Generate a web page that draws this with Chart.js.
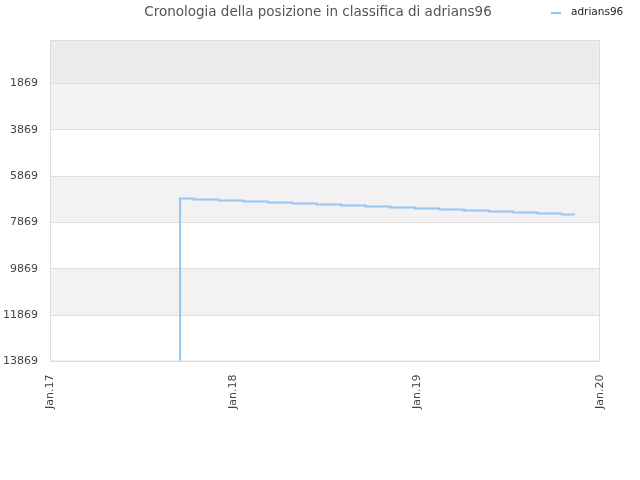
<!DOCTYPE html>
<html>
<head>
<meta charset="utf-8">
<script src="https://cdn.jsdelivr.net/npm/chart.js@4/dist/chart.umd.min.js"></script>
<style>
  html, body { margin: 0; padding: 0; background: #fff; }
  #wrap { width: 640px; height: 480px; }
</style>
</head>
<body>
<div id="wrap"><canvas id="rankChart"></canvas></div>
<script>
// Ranking history (lower rank number = better)
const rankDates = [
    '2017-09-15', '2017-09-17', '2017-10-15', '2017-12-02', '2018-01-21',
    '2018-03-10', '2018-04-29', '2018-06-16', '2018-08-04', '2018-09-21',
    '2018-11-10', '2018-12-28', '2019-02-16', '2019-04-05', '2019-05-25',
    '2019-07-12', '2019-08-30', '2019-10-17', '2019-11-12'
];
const rankValues = [
    13869, 6835, 6880, 6920, 6965,
    7010, 7050, 7095, 7140, 7180,
    7225, 7270, 7310, 7355, 7400,
    7440, 7485, 7530, 7530
];
const yTickValues = [1869, 3869, 5869, 7869, 9869, 11869, 13869];
const xTickYears = [2017, 2018, 2019, 2020];

const playerName = 'adrians96';
const titleText = 'Cronologia della posizione in classifica di ' + playerName;

// alternating background bands, top to bottom
const bandColors = ['#ececec', '#f2f2f2', '#ffffff', '#f2f2f2', '#ffffff', '#f2f2f2', '#ffffff'];

const points = rankDates.map((d, i) => ({ x: Date.parse(d + 'T00:00:00Z'), y: rankValues[i] }));

const decorPlugin = {
    id: 'decor',
    beforeDraw(chart) {
        const { ctx, chartArea, scales } = chart;
        const y = scales.y;
        const edges = [0].concat(yTickValues);
        ctx.save();
        for (let i = 0; i < edges.length - 1; i++) {
            const top = y.getPixelForValue(edges[i]);
            const bottom = y.getPixelForValue(edges[i + 1]);
            ctx.fillStyle = bandColors[i % bandColors.length];
            ctx.fillRect(chartArea.left, top, chartArea.right - chartArea.left, bottom - top);
        }
        ctx.restore();
    },
    afterDraw(chart) {
        const { ctx, chartArea } = chart;
        const ds = chart.data.datasets[0];
        ctx.save();
        // frame round the plot
        ctx.strokeStyle = '#dddddd';
        ctx.lineWidth = 1;
        ctx.strokeRect(chartArea.left + 0.5, chartArea.top + 0.5,
            chartArea.right - chartArea.left - 1, chartArea.bottom - chartArea.top - 1);
        // title, centred on the canvas
        ctx.fillStyle = '#555';
        ctx.font = '13.5px "DejaVu Sans", sans-serif';
        ctx.textAlign = 'center';
        ctx.textBaseline = 'middle';
        ctx.fillText(titleText, 318, 12);
        // legend in the top right corner, same row as the title
        ctx.fillStyle = ds.borderColor;
        ctx.fillRect(551, 12, 10, 2);
        ctx.fillStyle = '#222';
        ctx.font = '10.5px "DejaVu Sans", sans-serif';
        ctx.textAlign = 'left';
        ctx.fillText(ds.label, 571, 12);
        ctx.restore();
    }
};

const ctx = document.getElementById('rankChart').getContext('2d');

new Chart(ctx, {
    type: 'line',
    data: {
        datasets: [{
            label: playerName,
            data: points,
            stepped: true,
            borderColor: '#94c5f3',
            backgroundColor: '#94c5f3',
            borderWidth: 2,
            pointRadius: 0,
            fill: false
        }]
    },
    options: {
        responsive: true,
        maintainAspectRatio: false,
        animation: false,
        layout: {
            padding: { top: 40, right: 40, bottom: 58, left: 0 }
        },
        plugins: {
            title: { display: false },
            tooltip: { enabled: false },
            legend: { display: false }
        },
        scales: {
            x: {
                type: 'linear',
                min: Date.UTC(2017, 0, 1),
                max: Date.UTC(2020, 0, 1),
                grid: { display: false, drawTicks: false },
                border: { display: false },
                afterBuildTicks: (scale) => {
                    scale.ticks = xTickYears.map(yr => ({ value: Date.UTC(yr, 0, 1) }));
                },
                ticks: {
                    minRotation: 90,
                    maxRotation: 90,
                    padding: 13,
                    color: '#444',
                    font: { size: 11, family: '"DejaVu Sans", sans-serif' },
                    callback: (value) => 'Jan.' + String(new Date(value).getUTCFullYear()).slice(2)
                }
            },
            y: {
                reverse: true,
                min: 0,
                max: 13869,
                grid: { color: '#dedede', drawTicks: false },
                border: { display: false },
                afterBuildTicks: (scale) => {
                    scale.ticks = yTickValues.map(v => ({ value: v }));
                },
                afterFit: (scale) => { scale.width = 50; },
                ticks: {
                    padding: 12,
                    color: '#444',
                    font: { size: 11, family: '"DejaVu Sans", sans-serif' },
                    callback: (value) => String(value)
                }
            }
        }
    },
    plugins: [decorPlugin]
});
</script>
</body>
</html>
